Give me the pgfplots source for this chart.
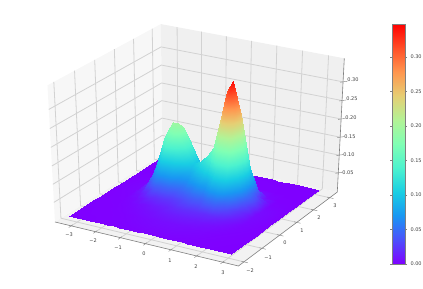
\documentclass[border=0pt]{standalone}
\usepackage{fontspec}
\setmainfont{DejaVu Sans}
\usepackage{pgfplots}
\pgfplotsset{compat=1.18}
\definecolor{gridc}{HTML}{D2D2D2}
\definecolor{axc}{HTML}{808080}
\definecolor{txt}{HTML}{404040}
\pgfplotsset{
 /pgf/declare function={
  nxx(\a)=(\a+3.67)/7.27-0.5;
  nyy(\b)=(\b+2.3)/5.77-0.5;
  nzz(\c)=(\c+0.005)/0.367-0.5;
  wwp(\a,\b,\c)=10-(0.433*nxx(\a)-0.75*nyy(\b)+0.5*nzz(\c));
  px(\a,\b,\c)=198.3+2118*(0.866*nxx(\a)+0.5*nyy(\b))/wwp(\a,\b,\c);
  py(\a,\b,\c)=148.1+1560*(-0.25*nxx(\a)+0.433*nyy(\b)+0.866*nzz(\c))/wwp(\a,\b,\c);
 },
 /pgfplots/table/pj/.style={x expr={px(\thisrow{x},\thisrow{y},\thisrow{z})},y expr={py(\thisrow{x},\thisrow{y},\thisrow{z})},row sep=\\},
}
\newcommand\tl[3]{\node[font=\fontsize{5}{6}\selectfont,text=txt,inner sep=0pt] at (axis cs:#1,#2) {#3};}
\begin{document}
\begin{tikzpicture}
\path[use as bounding box] (0,0) rectangle (423pt,289pt);
\begin{axis}[
 at={(0,0)},anchor=south west,scale only axis,width=423pt,height=289pt,
 xmin=0,xmax=423,ymin=0,ymax=289,hide axis,clip=false,
 colormap={mp}{rgb=(.5,0,1) rgb=(.3,.309,.988) rgb=(.1,.588,.951) rgb=(.1,.809,.891) rgb=(.3,.951,.809) rgb=(.5,1,.707) rgb=(.7,.951,.588) rgb=(.9,.809,.454) rgb=(1,.588,.309) rgb=(1,.309,.156) rgb=(1,0,0)},
 point meta min=0,point meta max=0.348,
 colorbar,
 colorbar style={
  at={(392/423,25/289)},anchor=south west,scale only axis,width=13pt,height=240pt,
  ytick={0,0.05,0.10,0.15,0.20,0.25,0.30},
  yticklabel pos=right,
  yticklabel style={font=\fontsize{5}{6}\selectfont,text=txt,/pgf/number format/.cd,fixed,fixed zerofill,precision=2,assume math mode=true},
  ytick style={draw=axc,line width=.4pt},major tick length=2pt,tick align=outside,
  axis line style={draw=axc,line width=.7pt},
 },
]
% panes
\addplot[fill=black!5,draw=none,forget plot] table[pj]{x y z\\ -3.67 -2.3 -0.005\\ 3.6 -2.3 -0.005\\ 3.6 3.47 -0.005\\ -3.67 3.47 -0.005\\ -3.67 -2.3 -0.005\\};
\addplot[fill=black!3,draw=none,forget plot] table[pj]{x y z\\ -3.67 -2.3 -0.005\\ -3.67 3.47 -0.005\\ -3.67 3.47 0.362\\ -3.67 -2.3 0.362\\ -3.67 -2.3 -0.005\\};
\addplot[fill=black!6,draw=none,forget plot] table[pj]{x y z\\ -3.67 3.47 -0.005\\ 3.6 3.47 -0.005\\ 3.6 3.47 0.362\\ -3.67 3.47 0.362\\ -3.67 3.47 -0.005\\};
% grid
\pgfplotsinvokeforeach{-3,-2,-1,0,1,2,3}{
 \addplot[gridc,line width=.8pt,forget plot] table[pj]{x y z\\ #1 -2.3 -0.005\\ #1 3.47 -0.005\\ #1 3.47 0.362\\};
 \addplot[axc,line width=.4pt,forget plot] table[pj]{x y z\\ #1 -2.42 -0.005\\ #1 -2.22 -0.005\\};
}
\pgfplotsinvokeforeach{-2,-1,0,1,2,3}{
 \addplot[gridc,line width=.8pt,forget plot] table[pj]{x y z\\ 3.6 #1 -0.005\\ -3.67 #1 -0.005\\ -3.67 #1 0.362\\};
 \addplot[axc,line width=.4pt,forget plot] table[pj]{x y z\\ 3.75 #1 -0.005\\ 3.5 #1 -0.005\\};
}
\pgfplotsinvokeforeach{0.05,0.10,0.15,0.20,0.25,0.30}{
 \addplot[gridc,line width=.8pt,forget plot] table[pj]{x y z\\ -3.67 -2.3 #1\\ -3.67 3.47 #1\\ 3.6 3.47 #1\\};
 \addplot[axc,line width=.4pt,forget plot] table[pj]{x y z\\ 3.53 3.4 #1\\ 3.7 3.57 #1\\};
}
% axis lines
\addplot[axc,line width=.6pt,forget plot] table[pj]{x y z\\ -3.67 -2.3 -0.005\\ 3.6 -2.3 -0.005\\ 3.6 3.47 -0.005\\ 3.6 3.47 0.362\\};
% surface
\addplot[surf,shader=interp,mesh/rows=15,mesh/cols=21,mesh/ordering=x varies,point meta=\thisrow{z},forget plot] table[pj]{x y z\\
-3.45 3.25 0\\-2.6 3.25 0\\-2.2 3.25 0\\-1.9 3.25 0\\-1.6 3.25 0\\-1.4 3.25 0\\-1.2 3.25 0\\-1.0 3.25 0\\-0.7 3.25 0\\-0.4 3.25 0\\-0.1 3.25 0\\0.2 3.25 0\\0.5 3.25 0\\0.7 3.25 0\\0.9 3.25 0\\1.1 3.25 0\\1.3 3.25 0\\1.5 3.25 0\\1.8 3.25 0\\2.2 3.25 0\\3.0 3.25 0\\
-3.45 2.4 0\\-2.6 2.4 0.0001\\-2.2 2.4 0.0004\\-1.9 2.4 0.0013\\-1.6 2.4 0.0023\\-1.4 2.4 0.0027\\-1.2 2.4 0.0025\\-1.0 2.4 0.002\\-0.7 2.4 0.0012\\-0.4 2.4 0.0009\\-0.1 2.4 0.001\\0.2 2.4 0.001\\0.5 2.4 0.0009\\0.7 2.4 0.0009\\0.9 2.4 0.0009\\1.1 2.4 0.0007\\1.3 2.4 0.0006\\1.5 2.4 0.0005\\1.8 2.4 0.0002\\2.2 2.4 0.0001\\3.0 2.4 0\\
-3.45 1.9 0\\-2.6 1.9 0.0006\\-2.2 1.9 0.005\\-1.9 1.9 0.0163\\-1.6 1.9 0.0312\\-1.4 1.9 0.0357\\-1.2 1.9 0.0344\\-1.0 1.9 0.03\\-0.7 1.9 0.0193\\-0.4 1.9 0.0116\\-0.1 1.9 0.01\\0.2 1.9 0.0106\\0.5 1.9 0.0113\\0.7 1.9 0.0135\\0.9 1.9 0.016\\1.1 1.9 0.0167\\1.3 1.9 0.014\\1.5 1.9 0.009\\1.8 1.9 0.0029\\2.2 1.9 0.0005\\3.0 1.9 0.0001\\
-3.45 1.55 0.0001\\-2.6 1.55 0.0016\\-2.2 1.55 0.0151\\-1.9 1.55 0.0497\\-1.6 1.55 0.0959\\-1.4 1.55 0.1101\\-1.2 1.55 0.1078\\-1.0 1.55 0.0993\\-0.7 1.55 0.068\\-0.4 1.55 0.0423\\-0.1 1.55 0.0374\\0.2 1.55 0.0414\\0.5 1.55 0.049\\0.7 1.55 0.0635\\0.9 1.55 0.0814\\1.1 1.55 0.0877\\1.3 1.55 0.0733\\1.5 1.55 0.0463\\1.8 1.55 0.0138\\2.2 1.55 0.0016\\3.0 1.55 0.0002\\
-3.45 1.3 0.0001\\-2.6 1.3 0.0024\\-2.2 1.3 0.0234\\-1.9 1.3 0.0771\\-1.6 1.3 0.1488\\-1.4 1.3 0.1712\\-1.2 1.3 0.1694\\-1.0 1.3 0.1604\\-0.7 1.3 0.1147\\-0.4 1.3 0.0762\\-0.1 1.3 0.0719\\0.2 1.3 0.0818\\0.5 1.3 0.1015\\0.7 1.3 0.1367\\0.9 1.3 0.1789\\1.1 1.3 0.1948\\1.3 1.3 0.1632\\1.5 1.3 0.1029\\1.8 1.3 0.0302\\2.2 1.3 0.003\\3.0 1.3 0.0002\\
-3.45 1.07 0.0002\\-2.6 1.07 0.0028\\-2.2 1.07 0.027\\-1.9 1.07 0.0883\\-1.6 1.07 0.1704\\-1.4 1.07 0.1962\\-1.2 1.07 0.1952\\-1.0 1.07 0.187\\-0.7 1.07 0.1384\\-0.4 1.07 0.0997\\-0.1 1.07 0.1023\\0.2 1.07 0.1193\\0.5 1.07 0.1513\\0.7 1.07 0.2075\\0.9 1.07 0.2745\\1.1 1.07 0.3002\\1.3 1.07 0.2518\\1.5 1.07 0.1585\\1.8 1.07 0.0462\\2.2 1.07 0.0044\\3.0 1.07 0.0003\\
-3.45 0.85 0.0002\\-2.6 0.85 0.0029\\-2.2 0.85 0.0246\\-1.9 0.85 0.0795\\-1.6 0.85 0.1528\\-1.4 0.85 0.1762\\-1.2 0.85 0.1757\\-1.0 0.85 0.1686\\-0.7 0.85 0.1287\\-0.4 0.85 0.1031\\-0.1 0.85 0.1152\\0.2 0.85 0.1363\\0.5 0.85 0.1737\\0.7 0.85 0.2384\\0.9 0.85 0.3154\\1.1 0.85 0.3449\\1.3 0.85 0.2894\\1.5 0.85 0.1825\\1.8 0.85 0.0535\\2.2 0.85 0.0052\\3.0 0.85 0.0004\\
-3.45 0.7 0.0002\\-2.6 0.7 0.0027\\-2.2 0.7 0.0205\\-1.9 0.7 0.0651\\-1.6 0.7 0.1247\\-1.4 0.7 0.1439\\-1.2 0.7 0.1435\\-1.0 0.7 0.1372\\-0.7 0.7 0.1076\\-0.4 0.7 0.0936\\-0.1 0.7 0.1107\\0.2 0.7 0.1316\\0.5 0.7 0.1663\\0.7 0.7 0.2265\\0.9 0.7 0.2983\\1.1 0.7 0.3255\\1.3 0.7 0.2731\\1.5 0.7 0.1723\\1.8 0.7 0.051\\2.2 0.7 0.0053\\3.0 0.7 0.0005\\
-3.45 0.5 0.0002\\-2.6 0.5 0.0022\\-2.2 0.5 0.0141\\-1.9 0.5 0.043\\-1.6 0.5 0.0814\\-1.4 0.5 0.0944\\-1.2 0.5 0.0944\\-1.0 0.5 0.0899\\-0.7 0.5 0.0742\\-0.4 0.5 0.0729\\-0.1 0.5 0.0914\\0.2 0.5 0.1084\\0.5 0.5 0.1334\\0.7 0.5 0.1775\\0.9 0.5 0.2303\\1.1 0.5 0.2497\\1.3 0.5 0.2092\\1.5 0.5 0.1326\\1.8 0.5 0.0402\\2.2 0.5 0.005\\3.0 0.5 0.0005\\
-3.45 0.25 0.0002\\-2.6 0.25 0.0017\\-2.2 0.25 0.0078\\-1.9 0.25 0.0212\\-1.6 0.25 0.0389\\-1.4 0.25 0.0457\\-1.2 0.25 0.0465\\-1.0 0.25 0.045\\-0.7 0.25 0.0416\\-0.4 0.25 0.0469\\-0.1 0.25 0.0604\\0.2 0.25 0.0697\\0.5 0.25 0.0807\\0.7 0.25 0.1013\\0.9 0.25 0.1263\\1.1 0.25 0.1344\\1.3 0.25 0.1122\\1.5 0.25 0.072\\1.8 0.25 0.0234\\2.2 0.25 0.004\\3.0 0.25 0.0005\\
-3.45 0 0.0002\\-2.6 0 0.0014\\-2.2 0 0.0043\\-1.9 0 0.0096\\-1.6 0 0.0168\\-1.4 0 0.0202\\-1.2 0 0.0218\\-1.0 0 0.0227\\-0.7 0 0.0241\\-0.4 0 0.029\\-0.1 0 0.036\\0.2 0 0.0395\\0.5 0 0.0419\\0.7 0 0.0475\\0.9 0 0.0548\\1.1 0 0.056\\1.3 0 0.0466\\1.5 0 0.0308\\1.8 0 0.0117\\2.2 0 0.0032\\3.0 0 0.0005\\
-3.45 -0.3 0.0002\\-2.6 -0.3 0.001\\-2.2 -0.3 0.0025\\-1.9 -0.3 0.0046\\-1.6 -0.3 0.0075\\-1.4 -0.3 0.0093\\-1.2 -0.3 0.0109\\-1.0 -0.3 0.0124\\-0.7 -0.3 0.0147\\-0.4 -0.3 0.0175\\-0.1 -0.3 0.0199\\0.2 -0.3 0.0206\\0.5 -0.3 0.0199\\0.7 -0.3 0.0197\\0.9 -0.3 0.0196\\1.1 -0.3 0.0183\\1.3 -0.3 0.0152\\1.5 -0.3 0.0107\\1.8 -0.3 0.0055\\2.2 -0.3 0.0023\\3.0 -0.3 0.0004\\
-3.45 -0.6 0.0001\\-2.6 -0.6 0.0007\\-2.2 -0.6 0.0016\\-1.9 -0.6 0.0027\\-1.6 -0.6 0.0043\\-1.4 -0.6 0.0054\\-1.2 -0.6 0.0067\\-1.0 -0.6 0.0078\\-0.7 -0.6 0.0097\\-0.4 -0.6 0.0113\\-0.1 -0.6 0.0122\\0.2 -0.6 0.0121\\0.5 -0.6 0.0112\\0.7 -0.6 0.0104\\0.9 -0.6 0.0094\\1.1 -0.6 0.0081\\1.3 -0.6 0.0067\\1.5 -0.6 0.0051\\1.8 -0.6 0.0033\\2.2 -0.6 0.0016\\3.0 -0.6 0.0003\\
-3.45 -1.0 0.0001\\-2.6 -1.0 0.0004\\-2.2 -1.0 0.0008\\-1.9 -1.0 0.0013\\-1.6 -1.0 0.002\\-1.4 -1.0 0.0026\\-1.2 -1.0 0.0033\\-1.0 -1.0 0.0039\\-0.7 -1.0 0.0048\\-0.4 -1.0 0.0055\\-0.1 -1.0 0.0059\\0.2 -1.0 0.0058\\0.5 -1.0 0.0053\\0.7 -1.0 0.0048\\0.9 -1.0 0.0042\\1.1 -1.0 0.0036\\1.3 -1.0 0.0029\\1.5 -1.0 0.0023\\1.8 -1.0 0.0015\\2.2 -1.0 0.0008\\3.0 -1.0 0.0001\\
-3.45 -1.85 0\\-2.6 -1.85 0.0001\\-2.2 -1.85 0.0001\\-1.9 -1.85 0.0002\\-1.6 -1.85 0.0003\\-1.4 -1.85 0.0004\\-1.2 -1.85 0.0005\\-1.0 -1.85 0.0006\\-0.7 -1.85 0.0008\\-0.4 -1.85 0.0009\\-0.1 -1.85 0.001\\0.2 -1.85 0.001\\0.5 -1.85 0.0009\\0.7 -1.85 0.0008\\0.9 -1.85 0.0007\\1.1 -1.85 0.0006\\1.3 -1.85 0.0005\\1.5 -1.85 0.0004\\1.8 -1.85 0.0003\\2.2 -1.85 0.0001\\3.0 -1.85 0\\
};
% tick labels (positions in picture pixels)
\tl{69}{54}{−3}\tl{93}{48}{−2}\tl{118}{41}{−1}\tl{144}{35}{0}\tl{170}{28}{1}\tl{196}{22}{2}\tl{223}{16}{3}
\tl{250}{18}{−2}\tl{268}{31}{−1}\tl{285}{46}{0}\tl{302}{58}{1}\tl{319}{71}{2}\tl{335}{83}{3}
\tl{353}{209}{0.30}\tl{352}{190}{0.25}\tl{351}{171}{0.20}\tl{350}{152}{0.15}\tl{349}{134}{0.10}\tl{348}{116}{0.05}
\end{axis}
\end{tikzpicture}
\end{document}
